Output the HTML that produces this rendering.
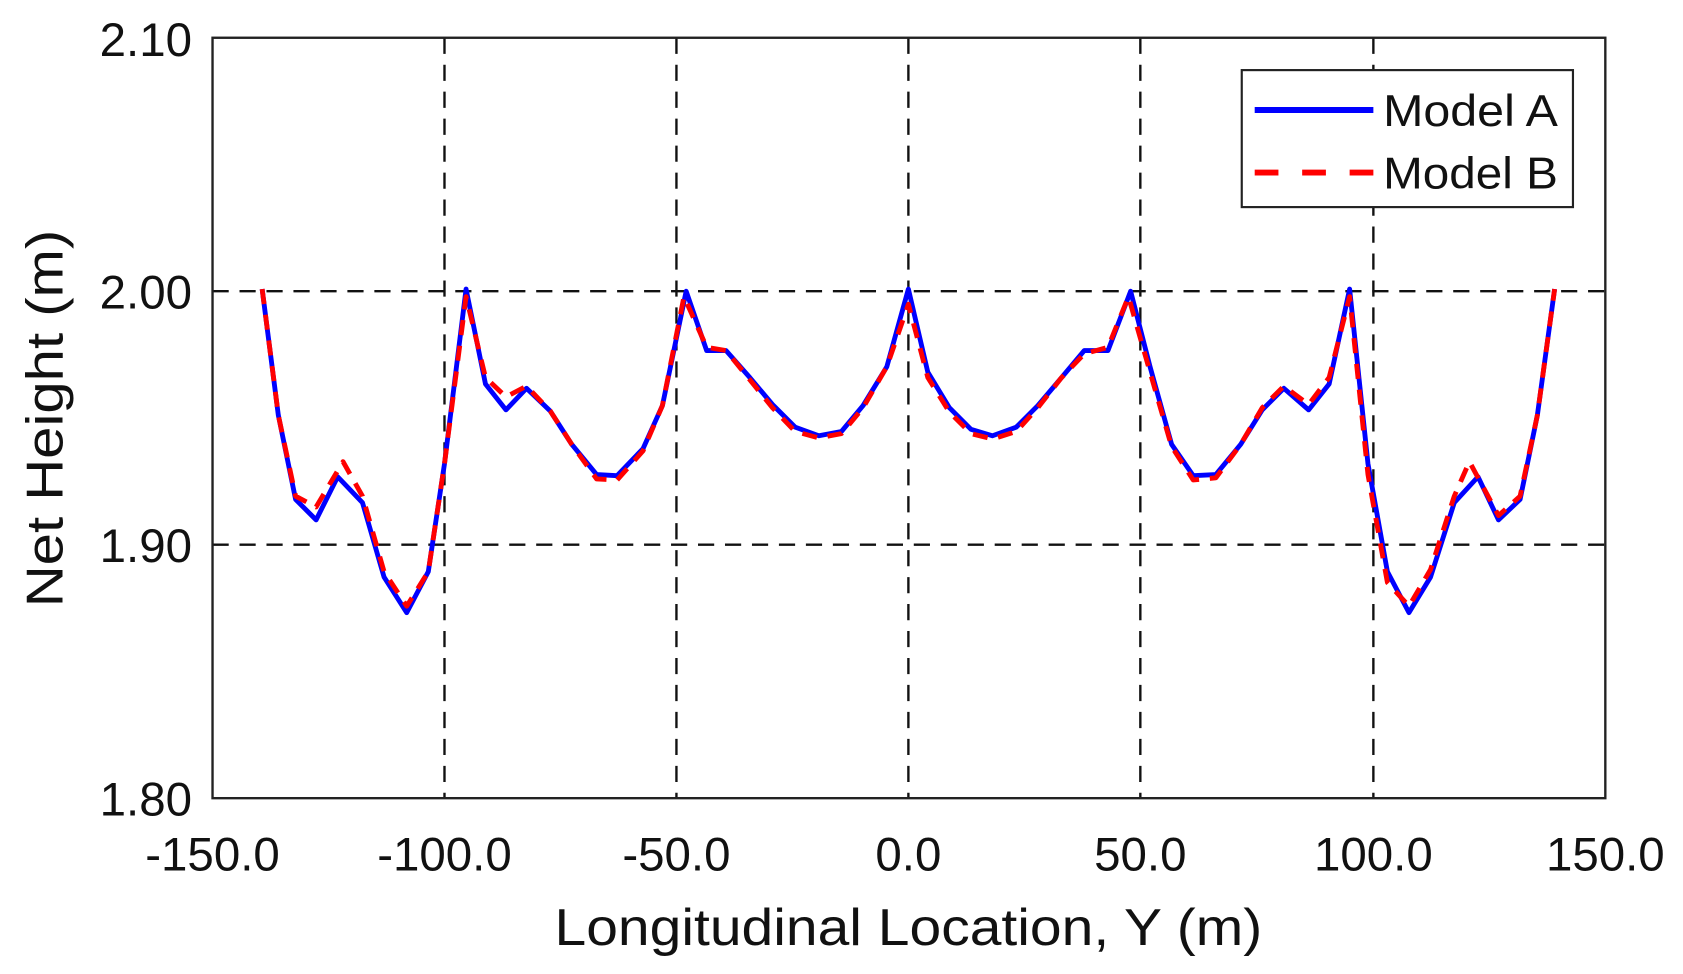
<!DOCTYPE html>
<html><head><style>html,body{margin:0;padding:0;background:#fff;}svg{display:block}</style></head>
<body>
<svg width="1683" height="974" viewBox="0 0 1560 903" preserveAspectRatio="none" xmlns="http://www.w3.org/2000/svg" font-family="Liberation Sans, sans-serif">
<rect width="1560" height="903" fill="#fff"/>
<g stroke="#111" stroke-width="2.2" stroke-dasharray="15,10" fill="none">
<line x1="197" y1="270" x2="1488" y2="270"/>
<line x1="197" y1="505" x2="1488" y2="505"/>
<line x1="412" y1="35" x2="412" y2="740"/>
<line x1="627" y1="35" x2="627" y2="740"/>
<line x1="842" y1="35" x2="842" y2="740"/>
<line x1="1057" y1="35" x2="1057" y2="740"/>
<line x1="1273" y1="35" x2="1273" y2="740"/>
</g>
<polyline fill="none" stroke="#0000ff" stroke-width="4.5" stroke-linejoin="round" points="243,268 258,385 274,463 293,482 313,442 336,466 356,535 377,568 397,530 412,430 432,268 450,356 469,380 488,360 510,381 530,412 553,440 572,441 596,416 614,376 636,270 655,325 673,325 695,350 716,375 737,396 759,404 780,400 800,376 822,340 842,268 860,345 880,378 900,398 920,404 942,396 962,376 984,350 1005,325 1027,325 1048,270 1066,340 1086,412 1106,441 1127,440 1150,412 1170,380 1190,360 1213,380 1232,356 1251,268 1268,430 1286,530 1306,568 1326,535 1348,466 1370,442 1389,482 1409,463 1425,385 1441,268"/>
<polyline fill="none" stroke="#ff0000" stroke-width="4.5" stroke-dasharray="14,10" stroke-linejoin="round" points="243,268 258,385 274,460 293,470 318,428 336,460 356,530 377,562 397,530 412,430 432,275 450,350 469,368 488,358 510,381 530,412 553,444 572,445 596,418 614,376 634,275 655,322 673,325 695,352 716,378 737,400 759,406 780,402 800,378 822,340 842,282 860,350 880,382 900,402 920,407 942,400 962,378 984,350 1005,328 1027,322 1046,275 1066,345 1086,414 1106,445 1127,443 1150,412 1170,378 1190,358 1213,375 1232,350 1251,275 1268,440 1286,540 1306,562 1326,528 1348,460 1362,428 1389,478 1409,460 1425,385 1441,268"/>
<rect x="197" y="35" width="1291" height="705" fill="none" stroke="#222" stroke-width="2.2"/>
<rect x="1151" y="65" width="307" height="127" fill="#fff" stroke="#222" stroke-width="2"/>
<line x1="1163" y1="102" x2="1273" y2="102" stroke="#0000ff" stroke-width="5.5"/>
<line x1="1163" y1="160" x2="1273" y2="160" stroke="#ff0000" stroke-width="5.5" stroke-dasharray="22,22"/>
<g font-size="41" fill="#111">
<text x="1282" y="117" textLength="162" lengthAdjust="spacingAndGlyphs">Model A</text>
<text x="1282" y="175" textLength="162" lengthAdjust="spacingAndGlyphs">Model B</text>
</g>
<g font-size="44" fill="#111" text-anchor="end">
<text x="178" y="52">2.10</text>
<text x="178" y="286">2.00</text>
<text x="178" y="521">1.90</text>
<text x="178" y="756">1.80</text>
</g>
<g font-size="44" fill="#111" text-anchor="middle">
<text x="197" y="807">-150.0</text>
<text x="412" y="807">-100.0</text>
<text x="627" y="807">-50.0</text>
<text x="842" y="807">0.0</text>
<text x="1057" y="807">50.0</text>
<text x="1273" y="807">100.0</text>
<text x="1488" y="807">150.0</text>
<text x="842" y="876" font-size="48" textLength="656" lengthAdjust="spacingAndGlyphs">Longitudinal Location, Y (m)</text>
<text transform="translate(58,388) rotate(-90)" font-size="48" textLength="350" lengthAdjust="spacingAndGlyphs">Net Height (m)</text>
</g>
</svg>
</body></html>
